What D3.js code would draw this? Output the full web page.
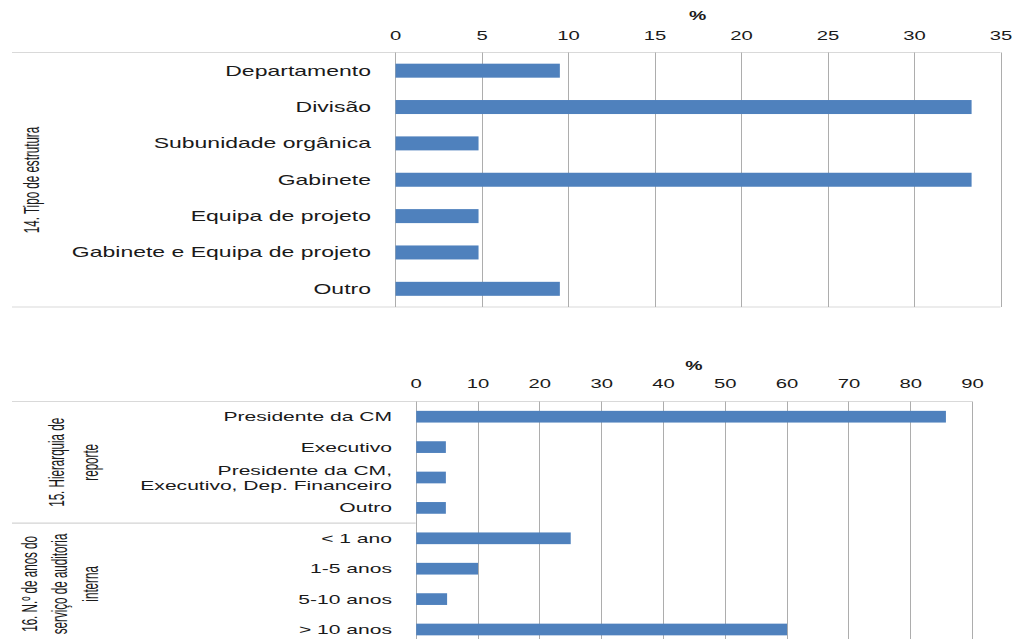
<!DOCTYPE html>
<html>
<head>
<meta charset="utf-8">
<script src="https://cdn.jsdelivr.net/npm/d3@7"></script>
<style>
  body { margin: 0; background: #fff; }
  text { font-family: "Liberation Sans", Arial, sans-serif; fill: #1a1a1a; }
</style>
</head>
<body>
<div id="chart"></div>
<script>
// data
const tipoCats = ["Departamento", "Divisão", "Subunidade orgânica", "Gabinete",
  "Equipa de projeto", "Gabinete e Equipa de projeto", "Outro"];
const tipoVals = [9.5, 33.3, 4.8, 33.3, 4.8, 4.8, 9.5];
const tipoTicks = [0, 5, 10, 15, 20, 25, 30, 35];

const reporteCats = ["Presidente da CM", "Executivo",
  "Presidente da CM,\nExecutivo, Dep. Financeiro", "Outro"];
const reporteVals = [85.7, 4.8, 4.8, 4.8];
const anosCats = ["< 1 ano", "1-5 anos", "5-10 anos", "> 10 anos"];
const anosVals = [25, 10, 5, 60];
const bottomTicks = [0, 10, 20, 30, 40, 50, 60, 70, 80, 90];

// the picture is stretched sideways, so text is too
const SX = 1.62, RSX = 1.95;
const barColor = "#4f81bd", gridColor = "#adadad", borderColor = "#d9d9d9";

const svg = d3.select("#chart").append("svg")
  .attr("width", 1014).attr("height", 639);

function stretched(g, x, y, s) {
  return g.append("text")
    .attr("transform", "translate(" + x + "," + y + ") scale(" + s + ",1)");
}

function drawChart(cfg) {
  const x = d3.scaleLinear().domain(cfg.domain).range([cfg.x0, cfg.x1]);
  const y = d3.scaleBand().domain(cfg.cats).range([cfg.top, cfg.bottom])
    .paddingInner(0.615).paddingOuter(0.3075);
  const g = svg.append("g");

  // borders
  g.append("line").attr("x1", 12).attr("x2", cfg.x1)
    .attr("y1", cfg.top).attr("y2", cfg.top)
    .attr("stroke", borderColor);
  if (cfg.bottomBorder) {
    g.append("line").attr("x1", 12).attr("x2", cfg.x1)
      .attr("y1", cfg.bottom).attr("y2", cfg.bottom)
      .attr("stroke", borderColor);
  }

  // gridlines
  g.selectAll(".grid").data(cfg.ticks).enter().append("line")
    .attr("x1", d => Math.round(x(d)) + 0.5).attr("x2", d => Math.round(x(d)) + 0.5)
    .attr("y1", cfg.top).attr("y2", cfg.gridEnd)
    .attr("stroke", gridColor);

  // tick labels
  const ax = g.append("g")
    .attr("transform", "translate(0," + cfg.tickY + ")")
    .call(d3.axisTop(x).tickValues(cfg.ticks).tickSize(0).tickPadding(0));
  ax.select(".domain").remove();
  ax.selectAll("text")
    .attr("y", 0).attr("dy", "0.35em")
    .attr("transform", "scale(" + SX + ",1)")
    .style("font-family", "Liberation Sans, Arial, sans-serif")
    .style("font-size", "12.5px").attr("fill", "#1a1a1a");

  // % title
  stretched(g, (cfg.x0 + cfg.x1) / 2, cfg.pctY, SX)
    .attr("text-anchor", "middle").attr("dy", "0.35em")
    .style("font-size", "12px").style("font-weight", "bold").text("%");

  // bars
  g.selectAll(".bar").data(cfg.cats).enter().append("rect")
    .attr("x", x(0) + 0.5)
    .attr("y", d => y(d))
    .attr("height", y.bandwidth())
    .attr("width", (d, i) => x(cfg.vals[i]) - x(0))
    .attr("fill", barColor);

  // category labels
  cfg.cats.forEach(function (c) {
    const lines = c.split("\n");
    const lh = 15;
    const cy = y(c) + y.bandwidth() / 2 - (lines.length - 1) * lh / 2;
    const t = stretched(g, cfg.labelX, cy, SX)
      .attr("text-anchor", "end")
      .style("font-size", cfg.labelSize + "px");
    lines.forEach(function (l, i) {
      t.append("tspan").attr("x", 0).attr("y", i * lh).attr("dy", "0.35em").text(l);
    });
  });

  return { x: x, y: y, g: g };
}

function groupLabel(g, lines, x, cy, spacing) {
  const t = g.append("text")
    .attr("transform", "translate(" + x + "," + cy + ") scale(" + RSX + ",1) rotate(-90)")
    .attr("text-anchor", "middle")
    .style("font-size", "11.6px");
  lines.forEach(function (l, i) {
    t.append("tspan").attr("x", 0).attr("y", i * spacing / RSX).attr("dy", "0.35em").text(l);
  });
}

// chart 14
const chartTipo = drawChart({
  cats: tipoCats, vals: tipoVals, ticks: tipoTicks, domain: [0, 35],
  x0: 395, x1: 1000.5, top: 52.5, bottom: 307, gridEnd: 307,
  tickY: 36, pctY: 16, labelX: 371, labelSize: 14.2, bottomBorder: true
});
groupLabel(chartTipo.g, ["14. Tipo de estrutura"], 31, 180, 0);

// charts 15 and 16 share one axis
const allCats = reporteCats.concat(anosCats);
const allVals = reporteVals.concat(anosVals);
const chartBottom = drawChart({
  cats: allCats, vals: allVals, ticks: bottomTicks, domain: [0, 90],
  x0: 415.7, x1: 972, top: 401.5, bottom: 401.5 + 8 * 30.4, gridEnd: 645,
  tickY: 383.5, pctY: 366, labelX: 392, labelSize: 13, bottomBorder: false
});
// separator between the two groups
const yb = chartBottom.y;
const sepY = yb(anosCats[0]) - yb.step() * yb.paddingInner() / 2;
chartBottom.g.append("line").attr("x1", 12).attr("x2", 415.7)
  .attr("y1", sepY).attr("y2", sepY).attr("stroke", "#c8c8c8");

const midRep = (yb(reporteCats[0]) + yb(reporteCats[3]) + yb.bandwidth()) / 2;
const midAnos = (yb(anosCats[0]) + yb(anosCats[3]) + yb.bandwidth()) / 2;
groupLabel(chartBottom.g, ["15. Hierarquia de", "reporte"], 56, midRep, 34);
groupLabel(chartBottom.g, ["16. N.º de anos do", "serviço de auditoria", "interna"], 29, midAnos, 30.5);
</script>
</body>
</html>
